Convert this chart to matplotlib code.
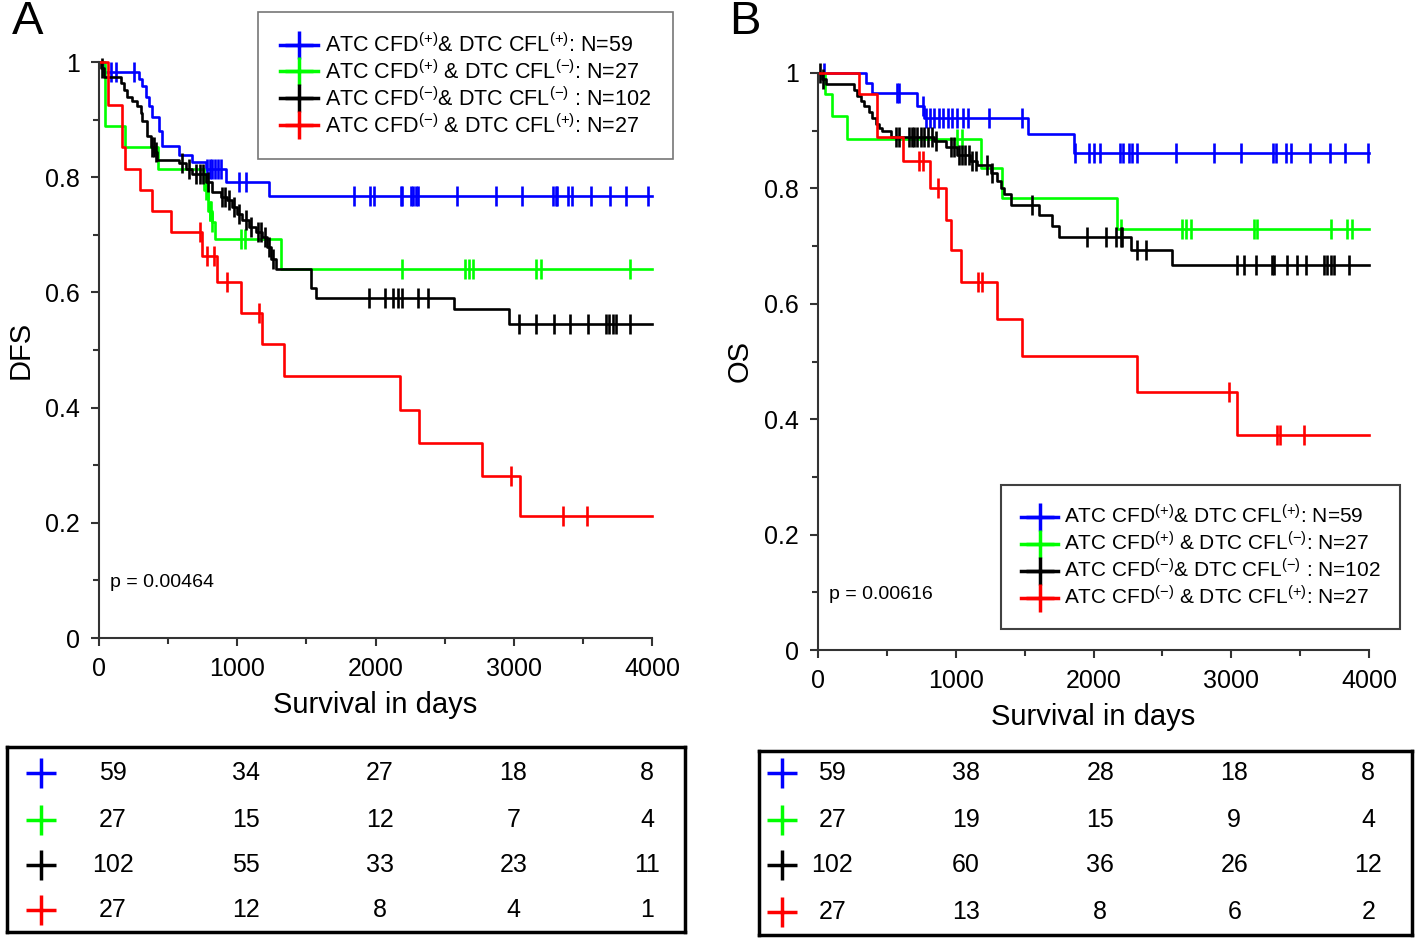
import numpy as np
import matplotlib
matplotlib.use('Agg')
import matplotlib.pyplot as plt
from matplotlib.lines import Line2D

plt.rcParams['font.family'] = ['Liberation Sans', 'DejaVu Sans']
plt.rcParams['mathtext.fontset'] = 'custom'
plt.rcParams['mathtext.rm'] = 'Liberation Sans'
plt.rcParams['mathtext.it'] = 'Liberation Sans:italic'
plt.rcParams['mathtext.bf'] = 'Liberation Sans:bold'

# ---- group labels / colours ----
labels = ['ATC CFD$^{(+)}$& DTC CFL$^{(+)}$: N=59',
          'ATC CFD$^{(+)}$ & DTC CFL$^{(-)}$: N=27',
          'ATC CFD$^{(-)}$& DTC CFL$^{(-)}$ : N=102',
          'ATC CFD$^{(-)}$ & DTC CFL$^{(+)}$: N=27']
colors = ['#0000ff', '#00ff00', '#000000', '#ff0000']

# ---- panel A (DFS): drop times, survival after drop, censor times ----
dfs_blue_t = [36, 289, 313, 337, 361, 386, 434, 458, 578, 675, 771, 916, 1229]
dfs_blue_s = [0.983, 0.97, 0.958, 0.94, 0.923, 0.905, 0.88, 0.855, 0.838, 0.826, 0.815, 0.792, 0.767]
dfs_blue_c = [84, 120, 253, 780, 800, 820, 840, 860, 880, 1012, 1060, 1848, 1957, 1986, 2186, 2195,
              2258, 2268, 2294, 2304, 2587, 2873, 3061, 3287, 3302, 3316, 3389, 3423, 3560, 3697,
              3813, 3970]

dfs_green_t = [45, 190, 425, 760, 790, 815, 840, 1320]
dfs_green_s = [0.889, 0.852, 0.815, 0.778, 0.741, 0.722, 0.693, 0.64]
dfs_green_c = [775, 785, 800, 805, 810, 820, 1029, 1055, 2194, 2647, 2673, 2705, 3158, 3197, 3838]

dfs_black_t = [12, 36, 157, 181, 205, 241, 277, 301, 313, 349, 374, 398, 422, 578, 627, 675, 771,
               819, 880, 928, 964, 1000, 1036, 1085, 1133, 1181, 1217, 1241, 1277, 1530, 1567,
               2566, 2964]
dfs_black_s = [0.99, 0.974, 0.964, 0.952, 0.94, 0.932, 0.923, 0.911, 0.897, 0.871, 0.853, 0.844,
               0.83, 0.824, 0.815, 0.806, 0.792, 0.774, 0.766, 0.76, 0.748, 0.736, 0.725, 0.713,
               0.704, 0.696, 0.678, 0.658, 0.64, 0.608, 0.591, 0.572, 0.545]
dfs_black_c = [25, 380, 395, 410, 600, 650, 700, 730, 750, 790, 890, 910, 940, 975, 1010, 1060,
               1100, 1150, 1170, 1200, 1230, 1260, 1951, 2071, 2129, 2162, 2194, 2307, 2382, 3035,
               3158, 3288, 3408, 3537, 3667, 3689, 3715, 3741, 3844]

dfs_red_t = [67, 169, 188, 294, 381, 518, 747, 856, 1024, 1176, 1338, 2178, 2314, 2767, 3045]
dfs_red_s = [0.926, 0.852, 0.815, 0.778, 0.741, 0.704, 0.663, 0.618, 0.564, 0.51, 0.454, 0.396,
             0.339, 0.282, 0.212]
dfs_red_c = [728, 783, 831, 923, 1157, 2981, 3359, 3528]

# ---- panel B (OS) ----
os_blue_t = [345, 390, 721, 770, 1525, 1861]
os_blue_s = [0.983, 0.965, 0.942, 0.922, 0.895, 0.861]
os_blue_c = [45, 571, 587, 765, 781, 813, 839, 877, 910, 942, 974, 1006, 1055, 1087, 1242, 1484,
             1868, 1968, 2000, 2048, 2194, 2216, 2258, 2281, 2313, 2597, 2878, 3071, 3303, 3323,
             3394, 3436, 3571, 3716, 3829, 3990]

os_green_t = [48, 104, 208, 1181, 1338, 2168]
os_green_s = [0.963, 0.926, 0.886, 0.836, 0.784, 0.729]
os_green_c = [1006, 1048, 2198, 2645, 2669, 2706, 3166, 3190, 3722, 3843, 3880]

os_black_t = [30, 60, 261, 286, 310, 334, 370, 394, 419, 443, 467, 528, 842, 930, 1012, 1100,
              1157, 1254, 1300, 1330, 1350, 1399, 1605, 1702, 1750, 2270, 2573]
os_black_s = [0.99, 0.981, 0.971, 0.961, 0.951, 0.942, 0.932, 0.922, 0.912, 0.905, 0.899, 0.889,
              0.882, 0.871, 0.858, 0.848, 0.84, 0.826, 0.812, 0.8, 0.79, 0.772, 0.754, 0.734,
              0.715, 0.693, 0.667]
os_black_c = [15, 35, 564, 588, 661, 680, 700, 720, 745, 770, 800, 830, 860, 963, 990, 1020, 1045,
              1070, 1095, 1120, 1150, 1230, 1266, 1556, 1956, 2089, 2161, 2198, 2210, 2319, 2379,
              3045, 3093, 3178, 3299, 3311, 3408, 3480, 3541, 3674, 3698, 3722, 3746, 3855]

os_red_t = [300, 426, 619, 813, 926, 968, 1039, 1297, 1484, 2313, 3045]
os_red_s = [0.963, 0.889, 0.848, 0.80, 0.745, 0.694, 0.638, 0.574, 0.51, 0.447, 0.373]
os_red_c = [732, 765, 868, 1161, 1194, 2984, 3329, 3355, 3529]

# ---- numbers at risk ----
risk_dfs = [[59, 34, 27, 18, 8], [27, 15, 12, 7, 4], [102, 55, 33, 23, 11], [27, 12, 8, 4, 1]]
risk_os = [[59, 38, 28, 18, 8], [27, 19, 15, 9, 4], [102, 60, 36, 26, 12], [27, 13, 8, 6, 2]]

W, H = 1418, 942
fig = plt.figure(figsize=(W / 100, H / 100), dpi=100)


def km(ax, t, s, cens, color):
    tt = np.r_[0, t, 4000]
    ss = np.r_[1, s, s[-1]]
    ax.step(tt, ss, where='post', color=color, lw=1.9, clip_on=False)
    idx = np.searchsorted(t, cens, side='right')
    cy = np.r_[1, s][idx]
    ax.plot(cens, cy, ls='none', marker='|', ms=14, mew=1.9, color=color, clip_on=False)


def style(ax, ylab):
    ax.set_xlim(0, 4000)
    ax.set_ylim(0, 1)
    ax.set_xticks([0, 1000, 2000, 3000, 4000])
    ax.set_xticks([500, 1500, 2500, 3500], minor=True)
    ax.set_yticks([0, 0.2, 0.4, 0.6, 0.8, 1])
    ax.set_yticklabels(['0', '0.2', '0.4', '0.6', '0.8', '1'])
    ax.set_yticks([0.1, 0.3, 0.5, 0.7, 0.9], minor=True)
    for sp in ['top', 'right']:
        ax.spines[sp].set_visible(False)
    for sp in ['left', 'bottom']:
        ax.spines[sp].set_color('#333333')
        ax.spines[sp].set_linewidth(1.5)
    ax.tick_params(which='major', length=6, width=1.5, color='#333333', labelsize=18, pad=8)
    ax.tick_params(which='minor', length=4, width=1.5, color='#333333')
    ax.set_xlabel('Survival in days', fontsize=21)
    ax.set_ylabel(ylab, fontsize=21)
    ax.xaxis.set_label_coords(0.5, -0.092)
    ax.yaxis.set_label_coords(-0.117, 0.5)


def box(x0, y0, x1, y1):
    return [x0 / W, 1 - y1 / H, (x1 - x0) / W, (y1 - y0) / H]


handles = [Line2D([], [], color=c, lw=2.5, marker='+', ms=20, mew=2.5) for c in colors]

# Panel A
axA = fig.add_axes(box(99, 62, 652, 638))
km(axA, dfs_blue_t, dfs_blue_s, dfs_blue_c, colors[0])
km(axA, dfs_green_t, dfs_green_s, dfs_green_c, colors[1])
km(axA, dfs_black_t, dfs_black_s, dfs_black_c, colors[2])
km(axA, dfs_red_t, dfs_red_s, dfs_red_c, colors[3])
style(axA, 'DFS')
axA.text(80, 0.097, 'p = 0.00464', fontsize=14, va='center')
legA = axA.legend(handles, labels, loc='upper left', bbox_to_anchor=(258 / W, 1 - 12 / H),
                  bbox_transform=fig.transFigure, fontsize=15.5, frameon=True, fancybox=False,
                  handlelength=1.8, handletextpad=0.3, labelspacing=0.15, borderpad=1.0,
                  borderaxespad=0)
legA.get_frame().set_edgecolor('#555555')
legA.get_frame().set_linewidth(1.2)

# Panel B
axB = fig.add_axes(box(818, 73, 1369, 650))
km(axB, os_blue_t, os_blue_s, os_blue_c, colors[0])
km(axB, os_green_t, os_green_s, os_green_c, colors[1])
km(axB, os_black_t, os_black_s, os_black_c, colors[2])
km(axB, os_red_t, os_red_s, os_red_c, colors[3])
style(axB, 'OS')
axB.text(80, 0.097, 'p = 0.00616', fontsize=14, va='center')
legB = axB.legend(handles, labels, loc='upper left', bbox_to_anchor=(1001 / W, 1 - 485 / H),
                  bbox_transform=fig.transFigure, fontsize=15, frameon=True, fancybox=False,
                  handlelength=1.8, handletextpad=0.25, labelspacing=0.18, borderpad=0.95,
                  borderaxespad=0)
legB.get_frame().set_edgecolor('#111111')
legB.get_frame().set_linewidth(1.5)

fig.text(28 / W, 1 - 22 / H, 'A', fontsize=34, ha='center', va='center')
fig.text(745 / W, 1 - 22 / H, 'B', fontsize=34, ha='center', va='center')


def risk_table(rect, risk, col0, col1, mx, rows):
    t = fig.add_axes(rect)
    t.set_xlim(0, 1)
    t.set_ylim(0, 1)
    t.set_xticks([])
    t.set_yticks([])
    for sp in t.spines.values():
        sp.set_linewidth(2.5)
        sp.set_color('black')
    cols = np.linspace(col0, col1, 5)
    for r, (vals, c) in enumerate(zip(risk, colors)):
        t.plot([mx], [rows[r]], marker='+', ms=22, mew=2.5, color=c)
        for x, v in zip(cols, vals):
            t.text(x, rows[r], str(v), fontsize=18, ha='center', va='center')


risk_table(box(7, 747, 685, 932), risk_dfs, 0.156, 0.944, 0.05, [0.859, 0.605, 0.362, 0.119])
risk_table(box(759, 751, 1412, 935), risk_os, 0.112, 0.933, 0.035, [0.88, 0.625, 0.38, 0.125])

fig.savefig('out.png', dpi=100)
